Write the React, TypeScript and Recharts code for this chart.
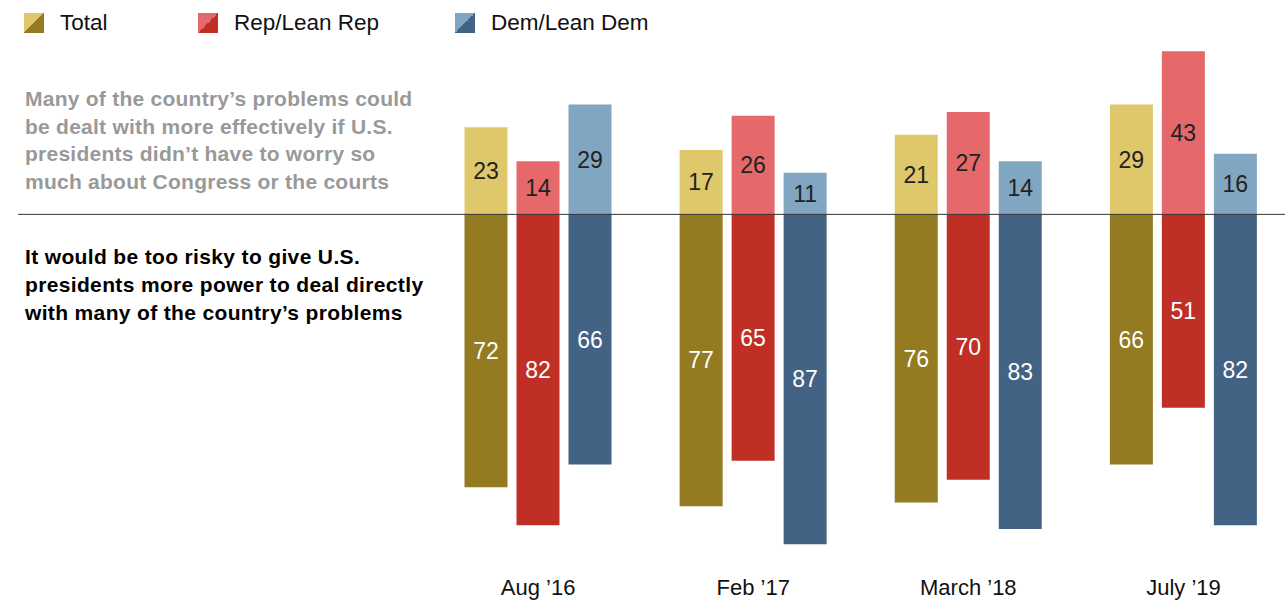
import React from 'react';
import { BarChart, Bar, XAxis, YAxis, ReferenceLine, LabelList } from 'recharts';

const categories = ['Aug ’16', 'Feb ’17', 'March ’18', 'July ’19'];
// share saying presidents could deal more effectively (above line)
const totalPos = [23, 17, 21, 29];
const repPos = [14, 26, 27, 43];
const demPos = [29, 11, 14, 16];
// share saying too risky (below line)
const totalNeg = [72, 77, 76, 66];
const repNeg = [82, 65, 70, 51];
const demNeg = [66, 87, 83, 82];

const data = categories.map((c, i) => ({
    name: c,
    totalPos: totalPos[i],
    totalNeg: -totalNeg[i],
    repPos: repPos[i],
    repNeg: -repNeg[i],
    demPos: demPos[i],
    demNeg: -demNeg[i],
}));

const FONT = '"Liberation Sans", Arial, sans-serif';

const LEGEND = [
    { label: 'Total', light: '#dfc76b', dark: '#947a20', x: 24 },
    { label: 'Rep/Lean Rep', light: '#e5696a', dark: '#c02f25', x: 198 },
    { label: 'Dem/Lean Dem', light: '#80a6c1', dark: '#426383', x: 455 },
];

const abs = (v: any) => Math.abs(Number(v));

export default function App() {
    const labelProps = { fontSize: 23, fontFamily: FONT, formatter: abs, position: 'center' as const };
    return (
        <div style={{ position: 'absolute', left: 0, top: 0, width: 1285, height: 600, overflow: 'hidden', background: '#fff', fontFamily: FONT }}>
            {LEGEND.map((l) => (
                <div key={l.label} style={{ position: 'absolute', left: l.x, top: 13, display: 'flex', alignItems: 'center' }}>
                    <div
                        style={{
                            width: 20,
                            height: 20,
                            background: `linear-gradient(to bottom right, ${l.light} 50%, ${l.dark} 50%)`,
                        }}
                    />
                    <span style={{ marginLeft: 16, fontSize: 22.5, color: '#111', lineHeight: '20px' }}>{l.label}</span>
                </div>
            ))}

            <div style={{ position: 'absolute', left: 25, top: 85, width: 430, fontSize: 21, fontWeight: 700, lineHeight: '27.5px', color: '#999', letterSpacing: 0.25 }}>
                Many of the country’s problems could<br />
                be dealt with more effectively if U.S.<br />
                presidents didn’t have to worry so<br />
                much about Congress or the courts
            </div>
            <div style={{ position: 'absolute', left: 25, top: 243, width: 430, fontSize: 21, fontWeight: 700, lineHeight: '28px', color: '#000', letterSpacing: 0.35 }}>
                It would be too risky to give U.S.<br />
                presidents more power to deal directly<br />
                with many of the country’s problems
            </div>

            <BarChart
                width={1291}
                height={600}
                data={data}
                stackOffset="sign"
                barSize={43}
                barGap={9}
                margin={{ top: 40, right: 0, left: 18, bottom: 4.5 }}
                style={{ position: 'absolute', left: 0, top: 0 }}
            >
                <XAxis
                    dataKey="name"
                    axisLine={false}
                    tickLine={false}
                    height={40}
                    tickMargin={18}
                    padding={{ left: 412.5, right: 0 }}
                    tick={{ fill: '#111', fontSize: 22, fontFamily: FONT }}
                />
                <YAxis hide domain={[-90, 46]} />
                <Bar dataKey="totalPos" stackId="t" fill="#dfc76b" isAnimationActive={false}>
                    <LabelList dataKey="totalPos" fill="#222" {...labelProps} />
                </Bar>
                <Bar dataKey="totalNeg" stackId="t" fill="#947a20" isAnimationActive={false}>
                    <LabelList dataKey="totalNeg" fill="#fff" {...labelProps} />
                </Bar>
                <Bar dataKey="repPos" stackId="r" fill="#e5696a" isAnimationActive={false}>
                    <LabelList dataKey="repPos" fill="#222" {...labelProps} />
                </Bar>
                <Bar dataKey="repNeg" stackId="r" fill="#c02f25" isAnimationActive={false}>
                    <LabelList dataKey="repNeg" fill="#fff" {...labelProps} />
                </Bar>
                <Bar dataKey="demPos" stackId="d" fill="#80a6c1" isAnimationActive={false}>
                    <LabelList dataKey="demPos" fill="#222" {...labelProps} />
                </Bar>
                <Bar dataKey="demNeg" stackId="d" fill="#426383" isAnimationActive={false}>
                    <LabelList dataKey="demNeg" fill="#fff" {...labelProps} />
                </Bar>
                <ReferenceLine y={0} stroke="#333" strokeWidth={1} ifOverflow="visible" />
            </BarChart>
        </div>
    );
}
